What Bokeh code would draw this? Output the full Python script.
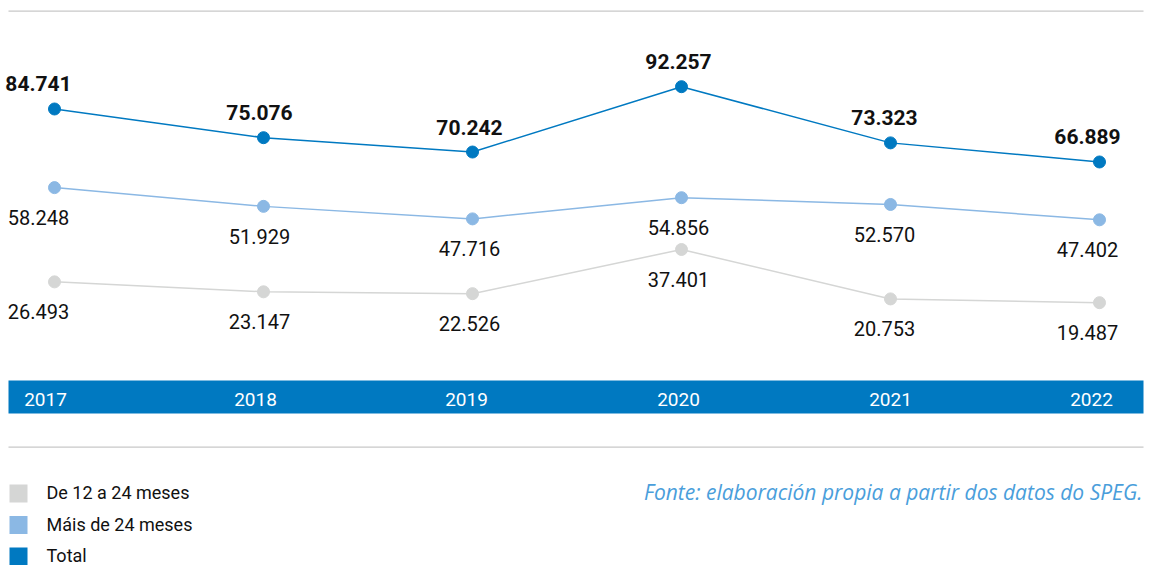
from bokeh.plotting import figure
from bokeh.models import Range1d, BoxAnnotation, ColumnDataSource
from bokeh.core.properties import value
from bokeh.embed import file_html
from bokeh.resources import INLINE

# ---- data ----
years = [2017, 2018, 2019, 2020, 2021, 2022]
year_labels = ["2017", "2018", "2019", "2020", "2021", "2022"]
total = [84.741, 75.076, 70.242, 92.257, 73.323, 66.889]
mais_24 = [58.248, 51.929, 47.716, 54.856, 52.570, 47.402]
de_12_24 = [26.493, 23.147, 22.526, 37.401, 20.753, 19.487]
series_names = ["De 12 a 24 meses", "Máis de 24 meses", "Total"]
source_text = "Fonte: elaboración propia a partir dos datos do SPEG."

# ---- style ----
C_TOTAL = "#0079C1"
C_MAIS = "#8BB8E4"
C_DE = "#D5D6D5"
C_BAND = "#0079C1"
C_RULE = "#C8C8C8"
C_TEXT = "#111111"
C_SRC = "#4A9EDB"
FONT = "Roboto"
label_dx = [-16, -4, -3, -3, -6, -12]
year_dx = [-9, -8, -6, -3, 0, -8]
TS = -7  # baseline correction for rendered text

W, H = 1151, 565
PX_PER_YEAR = 209.0
X0_PX = 54.0          # pixel of first year
PX_PER_UNIT = 2.968
ZERO_PX = 360.0       # pixel (from top) of value 0


def px2x(px):
    return years[0] + (px - X0_PX) / PX_PER_YEAR


def px2y(py):
    return (ZERO_PX - py) / PX_PER_UNIT


p = figure(width=W, height=H, output_backend="svg", toolbar_location=None,
           x_range=Range1d(px2x(0), px2x(W)), y_range=Range1d(px2y(H), px2y(0)),
           min_border=0, outline_line_color=None, background_fill_color="white",
           border_fill_color="white")
p.xaxis.visible = False
p.yaxis.visible = False
p.xgrid.visible = False
p.ygrid.visible = False

# rules
p.add_layout(BoxAnnotation(top=px2y(10), bottom=px2y(11.2), left=px2x(8), right=px2x(1143),
                           fill_color=C_RULE, fill_alpha=1, line_alpha=0))
p.add_layout(BoxAnnotation(top=px2y(446), bottom=px2y(447.2), left=px2x(8), right=px2x(1143),
                           fill_color=C_RULE, fill_alpha=1, line_alpha=0))

# year band
p.add_layout(BoxAnnotation(top=px2y(380), bottom=px2y(413), left=px2x(8), right=px2x(1143),
                           fill_color=C_BAND, fill_alpha=1, line_alpha=0, level="underlay"))
p.text(x=years, y=[px2y(406 + TS)] * len(years), text=year_labels, x_offset=year_dx,
       text_align="center", text_baseline="alphabetic", text_color="white",
       text_font=value(FONT), text_font_size="19px")

# series
for vals, col in [(de_12_24, C_DE), (mais_24, C_MAIS), (total, C_TOTAL)]:
    src = ColumnDataSource(dict(x=years, y=vals))
    p.line("x", "y", source=src, line_color=col, line_width=1.5)
    p.scatter("x", "y", source=src, size=12, fill_color=col, line_color=col)

# value labels
def fmt(v):
    return f"{v:.3f}"

for vals in (de_12_24, mais_24):
    p.text(x=years, y=vals, text=[fmt(v) for v in vals], x_offset=label_dx, y_offset=37 + TS,
           text_align="center", text_baseline="alphabetic", text_color=C_TEXT,
           text_font=value(FONT), text_font_size="20px")

p.text(x=years, y=total, text=[fmt(v) for v in total], x_offset=label_dx, y_offset=-18 + TS,
       text_align="center", text_baseline="alphabetic", text_color=C_TEXT,
       text_font=value(FONT), text_font_size="21px", text_font_style="bold")

# legend (manual)
leg_cols = [C_DE, C_MAIS, C_TOTAL]
leg_y_px = [493, 524.5, 556]
p.rect(x=[px2x(18)] * 3, y=[px2y(py) for py in leg_y_px], width=18, height=18,
       width_units="screen", height_units="screen", fill_color=leg_cols, line_color=None)
p.text(x=[px2x(46)] * 3, y=[px2y(py + 6 + TS) for py in leg_y_px], text=series_names,
       text_align="left", text_baseline="alphabetic", text_color=C_TEXT,
       text_font=value(FONT), text_font_size="18px")

# source
p.text(x=[px2x(1142)], y=[px2y(498 + TS)], text=[source_text], text_align="right",
       text_baseline="alphabetic", text_color=C_SRC, text_font=value("Open Sans"),
       text_font_size="21px", text_font_style="italic")

open("out.html", "w").write(file_html(p, INLINE))
